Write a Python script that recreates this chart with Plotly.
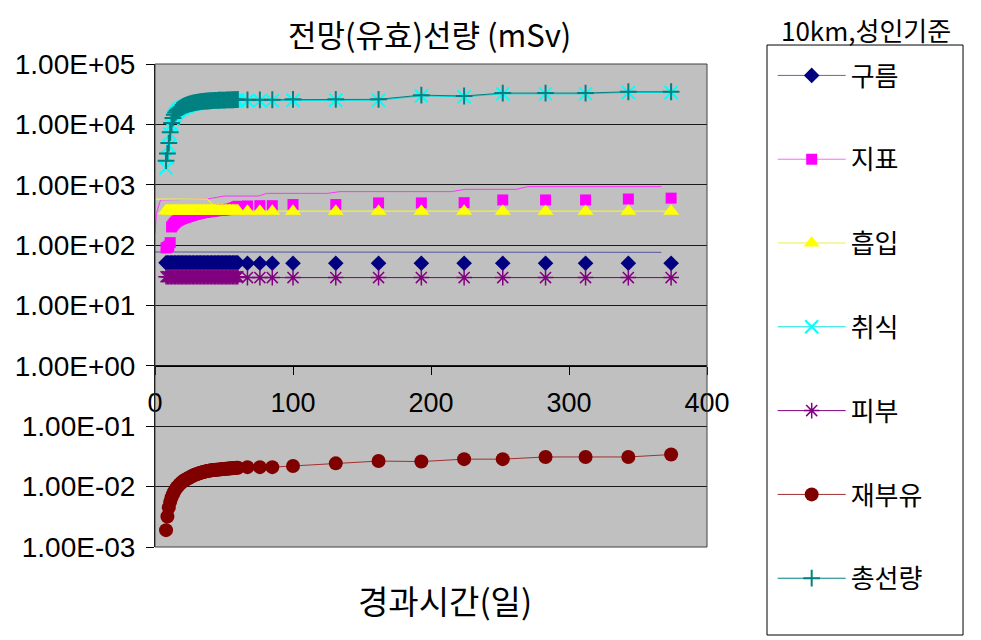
import plotly.graph_objects as go

# ---------------- data ----------------
days = [8, 9, 10, 11, 12, 13, 14, 15, 16, 17,
        18, 19, 20, 21, 22, 23, 24, 25, 26, 27,
        28, 29, 30, 31, 32, 33, 34, 35, 36, 37,
        38, 39, 40, 41, 42, 43, 44, 45, 46, 47,
        48, 49, 50, 51, 52, 53, 54, 55, 56, 57,
        58, 59, 60,
        67, 76, 85, 100, 131, 162, 193, 224, 252, 283, 312, 343, 374]

gureum = [51, 51, 51, 51, 51, 51, 51, 51, 51, 51,
          51, 51, 51, 51, 51, 51, 51, 51, 51, 51,
          51, 51, 51, 51, 51, 51, 51, 51, 51, 51,
          51, 51, 51, 51, 51, 51, 51, 51, 51, 51,
          51, 51, 51, 51, 51, 51, 51, 51, 51, 51,
          51, 51, 51,
          50, 50, 50, 50, 50, 50, 50, 50, 50, 50, 50, 50, 50]

jipyo = [90, 92, 96, 110, 200, 215, 230, 242, 252, 260,
         267, 273, 279, 284, 289, 294, 299, 304, 309, 314,
         319, 324, 328, 332, 336, 340, 344, 347, 350, 353,
         356, 359, 362, 365, 368, 370, 372, 374, 376, 378,
         380, 382, 384, 386, 388, 390, 392, 394, 400, 410,
         420, 430, 440,
         445, 450, 450, 470, 470, 500, 500, 505, 560, 560, 560, 580, 600]

heupip = [370, 370, 370, 370, 370, 370, 370, 370, 370, 370,
          370, 370, 370, 370, 370, 370, 370, 370, 370, 370,
          370, 370, 370, 370, 370, 370, 370, 370, 370, 370,
          370, 370, 370, 370, 370, 370, 370, 370, 370, 370,
          370, 370, 370, 370, 370, 370, 370, 370, 370, 370,
          370, 370, 370,
          365, 365, 365, 365, 365, 365, 365, 365, 365, 365, 365, 365, 365]

chwisik = [1900, 2800, 4400, 6900, 9900, 12200, 13900, 15100, 16100, 17000,
           17700, 18300, 18900, 19400, 19800, 20200, 20600, 21000, 21300, 21600,
           21900, 22200, 22400, 22600, 22800, 23000, 23200, 23300, 23400, 23500,
           23600, 23700, 23800, 23900, 24000, 24100, 24200, 24200, 24300, 24300,
           24400, 24400, 24500, 24500, 24600, 24600, 24700, 24700, 24800, 24800,
           24900, 24900, 25000,
           24600, 24600, 24700, 25100, 25100, 25100, 29600, 28600, 32000, 32000, 32000, 33700, 33700]

piboo = [30, 30, 30, 30, 30, 30, 30, 30, 30, 30,
         30, 30, 30, 30, 30, 30, 30, 30, 30, 30,
         30, 30, 30, 30, 30, 30, 30, 30, 30, 30,
         30, 30, 30, 30, 30, 30, 30, 30, 30, 30,
         30, 30, 30, 30, 30, 30, 30, 30, 30, 30,
         30, 30, 30,
         29, 29, 29, 29, 29, 29, 29, 29, 29, 29, 29, 29, 29]

jaebuyu = [0.0019, 0.0032, 0.0045, 0.0056, 0.0066, 0.0075, 0.0083, 0.0091, 0.0098, 0.0104,
           0.0110, 0.0116, 0.0121, 0.0126, 0.0130, 0.0134, 0.0138, 0.0142, 0.0146, 0.0150,
           0.0154, 0.0157, 0.0160, 0.0163, 0.0166, 0.0169, 0.0172, 0.0175, 0.0177, 0.0179,
           0.0181, 0.0183, 0.0185, 0.0187, 0.0188, 0.0189, 0.0190, 0.0191, 0.0192, 0.0193,
           0.0194, 0.0195, 0.0196, 0.0197, 0.0198, 0.0199, 0.0200, 0.0201, 0.0202, 0.0203,
           0.0204, 0.0205, 0.0206,
           0.021, 0.021, 0.021, 0.022, 0.0243, 0.0265, 0.026, 0.0285, 0.0285, 0.031, 0.031, 0.031, 0.034]

chongseonryang = [2500, 3300, 4900, 7400, 10500, 12800, 14500, 15800, 16800, 17700,
                  18400, 19000, 19600, 20100, 20600, 21000, 21400, 21800, 22100, 22400,
                  22700, 23000, 23200, 23400, 23600, 23800, 24000, 24100, 24200, 24300,
                  24400, 24500, 24600, 24700, 24800, 24900, 25000, 25000, 25100, 25100,
                  25200, 25200, 25300, 25300, 25400, 25400, 25500, 25500, 25600, 25600,
                  25700, 25700, 25800,
                  25500, 25500, 25600, 26000, 26000, 26000, 30500, 29500, 33000, 33000, 33000, 34700, 34700]

# connecting lines of 구름 / 지표 / 흡입 as they appear (offset from their markers)
gureum_line_x = [0, 100, 200, 300, 367]
gureum_line_y = [77, 77, 76, 76, 76]
jipyo_line_x = [0, 1, 4, 38, 50, 75, 81, 125, 134, 215, 225, 262, 270, 367]
jipyo_line_y = [157, 336, 560, 580, 650, 650, 720, 720, 770, 770, 840, 840, 930, 930]
heupip_line_x = [0, 38, 46, 100, 200, 300, 378]
heupip_line_y = [580, 580, 365, 365, 365, 365, 365]

series_names = ["구름", "지표", "흡입", "취식", "피부", "재부유", "총선량"]

y_tickvals = [1e-3, 1e-2, 1e-1, 1e0, 1e1, 1e2, 1e3, 1e4, 1e5]
y_ticktext = ["1.00E-03", "1.00E-02", "1.00E-01", "1.00E+00", "1.00E+01",
              "1.00E+02", "1.00E+03", "1.00E+04", "1.00E+05"]
x_tickvals = [0, 100, 200, 300, 400]

for s in (gureum, jipyo, heupip, chwisik, piboo, jaebuyu, chongseonryang):
    assert len(s) == len(days)

# ---------------- figure ----------------
KR = "Noto Sans CJK KR"
fig = go.Figure()

def legend_entry(name, group, color, marker):
    fig.add_trace(go.Scatter(x=[None], y=[None], mode="lines+markers", name=name,
                             legendgroup=group, line=dict(color=color, width=1),
                             marker=marker, hoverinfo="skip"))

# 구름
m_gureum = dict(symbol="diamond", size=12, color="#000080")
legend_entry(series_names[0], "g1", "#6666AA", m_gureum)
fig.add_trace(go.Scatter(x=gureum_line_x, y=gureum_line_y, mode="lines", showlegend=False,
                         line=dict(color="#5555A0", width=1)))
fig.add_trace(go.Scatter(x=days, y=gureum, mode="markers", showlegend=False, marker=m_gureum))

# 지표
m_jipyo = dict(symbol="square", size=11, color="#FF00FF")
legend_entry(series_names[1], "g2", "#FF66FF", m_jipyo)
fig.add_trace(go.Scatter(x=jipyo_line_x, y=jipyo_line_y, mode="lines", showlegend=False,
                         line=dict(color="#FF33FF", width=1)))
fig.add_trace(go.Scatter(x=days, y=jipyo, mode="markers", showlegend=False, marker=m_jipyo))

# 흡입
m_heupip = dict(symbol="triangle-up", size=14, color="#FFFF00")
legend_entry(series_names[2], "g3", "#F0F040", m_heupip)
fig.add_trace(go.Scatter(x=heupip_line_x, y=heupip_line_y, mode="lines", showlegend=False,
                         line=dict(color="#F0F040", width=1.2)))
fig.add_trace(go.Scatter(x=days, y=heupip, mode="markers", showlegend=False, marker=m_heupip))

# 취식
fig.add_trace(go.Scatter(x=days, y=chwisik, mode="lines+markers", name=series_names[3],
                         legendgroup="g4", line=dict(color="#00E0E0", width=1),
                         marker=dict(symbol="x-thin", size=13,
                                     line=dict(color="#00FFFF", width=2))))
# 피부
fig.add_trace(go.Scatter(x=days, y=piboo, mode="lines+markers", name=series_names[4],
                         legendgroup="g5", line=dict(color="#800080", width=1),
                         marker=dict(symbol="asterisk", size=13,
                                     line=dict(color="#800080", width=1.5))))
# 재부유
fig.add_trace(go.Scatter(x=days, y=jaebuyu, mode="lines+markers", name=series_names[5],
                         legendgroup="g6", line=dict(color="#A03030", width=1),
                         marker=dict(symbol="circle", size=14, color="#800000")))
# 총선량
fig.add_trace(go.Scatter(x=days, y=chongseonryang, mode="lines+markers", name=series_names[6],
                         legendgroup="g7", line=dict(color="#008080", width=1),
                         marker=dict(symbol="cross-thin", size=12,
                                     line=dict(color="#008080", width=2))))

fig.update_layout(
    width=973, height=632, autosize=False,
    margin=dict(l=147, r=274, t=56, b=93, pad=0),
    paper_bgcolor="white", plot_bgcolor="#C0C0C0",
    font=dict(family="Liberation Sans, Arial", color="black"),
    showlegend=True,
    legend=dict(x=1.119, xanchor="left", y=1.0248, yanchor="top",
                bgcolor="rgba(0,0,0,0)", borderwidth=0, itemwidth=68,
                tracegroupgap=47, traceorder="grouped", maxheight=620,
                font=dict(family=KR, size=26, color="black")),
    xaxis=dict(range=[0, 400], anchor="free", position=0.375,
               tickmode="array", tickvals=x_tickvals,
               ticks="outside", ticklen=8, tickcolor="black",
               showline=True, linecolor="black", linewidth=1,
               showgrid=False, zeroline=False,
               tickfont=dict(size=27, family="Liberation Sans, Arial"),
               ticklabelstandoff=5, automargin=False),
    yaxis=dict(type="log", range=[-3, 5],
               tickmode="array", tickvals=y_tickvals, ticktext=y_ticktext,
               ticks="outside", ticklen=8, tickcolor="black",
               showline=True, linecolor="black", linewidth=1,
               showgrid=True, gridcolor="#1a1a1a", gridwidth=1, zeroline=False,
               tickfont=dict(size=28, family="Liberation Sans, Arial"),
               ticklabelstandoff=5, automargin=False),
    shapes=[
        dict(type="rect", xref="paper", yref="paper", x0=0, x1=1, y0=0, y1=1,
             line=dict(color="#404040", width=1), layer="above"),
        dict(type="rect", xref="paper", yref="paper", x0=1.1087, x1=1.4638,
             y0=-0.1822, y1=1.0393, line=dict(color="black", width=1)),
    ],
    annotations=[
        dict(text="전망(유효)선량 (mSv)", xref="paper", yref="paper", x=0.498, y=1.1148,
             xanchor="center", yanchor="top", showarrow=False,
             font=dict(family=KR, size=31, color="black")),
        dict(text="10km,성인기준", xref="paper", yref="paper", x=1.288, y=1.1148,
             xanchor="center", yanchor="top", showarrow=False,
             font=dict(family=KR, size=26, color="black")),
        dict(text="경과시간(일)", xref="paper", yref="paper", x=0.525, y=-0.11,
             xanchor="center", yanchor="middle", showarrow=False,
             font=dict(family=KR, size=33, color="black")),
    ],
)

fig.write_html("out.html")
